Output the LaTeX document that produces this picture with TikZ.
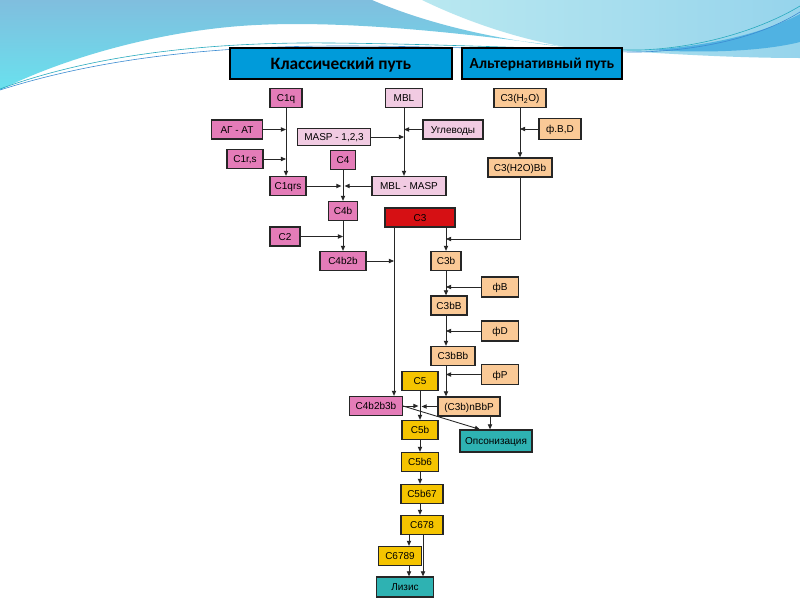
\documentclass[tikz,border=0pt]{standalone}
\usepackage{fontspec}
\setmainfont{Liberation Sans}
\newfontfamily\headfont{Carlito}
\usetikzlibrary{arrows.meta,calc}
\definecolor{pinkC}{RGB}{228,124,184}
\definecolor{lpinkC}{RGB}{241,203,226}
\definecolor{orangeC}{RGB}{250,201,150}
\definecolor{redC}{RGB}{214,16,20}
\definecolor{goldC}{RGB}{245,196,0}
\definecolor{tealC}{RGB}{46,178,178}
\definecolor{headC}{RGB}{0,155,218}
\definecolor{bgA}{RGB}{128,190,222}
\definecolor{bgB}{RGB}{105,225,238}
\definecolor{bgC}{RGB}{185,232,240}
\definecolor{bgD}{RGB}{150,212,236}
\definecolor{streakA}{RGB}{40,170,190}
\definecolor{streakB}{RGB}{60,140,210}
\definecolor{wedgeC}{RGB}{80,178,226}
\tikzset{
  box/.style={draw=black!85, line width=0.95pt, inner sep=0pt, minimum height=14.25pt, text height=5.4pt, text depth=0pt, font=\fontsize{7.5pt}{9pt}\selectfont},
  w/.style={minimum width=#1*0.75pt},
  h/.style={minimum height=#1*0.75pt},
  pk/.style={box, fill=pinkC},
  lp/.style={box, fill=lpinkC},
  og/.style={box, fill=orangeC},
  rd/.style={box, fill=redC},
  gd/.style={box, fill=goldC},
  tl/.style={box, fill=tealC},
  hd/.style={draw=black, line width=1.4pt, fill=headC, inner sep=0pt, minimum height=23.25pt, text depth=0pt},
  arr/.style={draw=black!85, line width=0.65pt, -{Triangle[length=3.8pt,width=3.2pt]}},
  streak/.style={line width=0.45pt}
}
\begin{document}
\begin{tikzpicture}[x=0.75pt,y=-0.75pt]
\useasboundingbox (0,0) rectangle (800,600);
\fill[white] (0,0) rectangle (800,600);
% background waves
\shade[top color=bgA, bottom color=bgB] (0,0) -- (372,0) .. controls (430,25) and (500,40) .. (565,47) .. controls (430,28) and (320,20) .. (240,26) .. controls (150,33) and (60,60) .. (0,90) -- cycle;
\shade[left color=bgC, right color=bgD] (422,0) -- (800,0) -- (800,58) .. controls (720,58) and (640,52) .. (565,47) .. controls (505,36) and (455,16) .. (422,0) -- cycle;
\fill[wedgeC] (650,50) .. controls (720,45) and (770,30) .. (800,14) -- (800,42) .. controls (760,52) and (700,53) .. (650,50) -- cycle;
\draw[streak, streakA] (0,89) .. controls (100,52) and (220,42) .. (330,43) .. controls (450,44) and (560,50) .. (640,50) .. controls (700,48) and (760,30) .. (800,6);
\draw[streak, streakB] (0,90) .. controls (110,55) and (230,46) .. (340,46) .. controls (460,46) and (560,52) .. (640,52) .. controls (710,50) and (765,34) .. (800,12);
% headers
\node[hd, minimum width=166.5pt, text height=8.4pt] (klass) at (341,63.5) {\headfont\bfseries\fontsize{13pt}{15pt}\selectfont Классический путь};
\node[hd, minimum width=120pt, text height=7.4pt] (alt) at (542,63.5) {\headfont\bfseries\fontsize{11.5pt}{14pt}\selectfont Альтернативный путь};
% nodes
\node[pk, w=32] (c1q) at (286,98) {C1q};
\node[lp, w=37] (mbl) at (404,98) {MBL};
\node[og, w=52] (c3h2o) at (520,98) {C3(H\textsubscript{2}O)};
\node[pk, w=51] (agat) at (237,129.5) {АГ - АТ};
\node[lp, w=73, h=17] (masp) at (334,137) {MASP - 1,2,3};
\node[lp, w=60] (ugl) at (453,129.5) {Углеводы};
\node[og, w=42, h=21] (fbd) at (560,129) {ф.B,D};
\node[pk, w=36] (c1rs) at (245,159) {C1r,s};
\node[pk, w=25] (c4) at (343,160) {C4};
\node[og, w=64] (c3h2obb) at (520,167.5) {C3(H2O)Bb};
\node[pk, w=36] (c1qrs) at (288,186) {C1qrs};
\node[lp, w=74] (mblmasp) at (409,186) {MBL - MASP};
\node[pk, w=29] (c4b) at (343,211) {C4b};
\node[rd, w=70] (c3) at (420,217.5) {C3};
\node[pk, w=30] (c2) at (285,236.5) {C2};
\node[pk, w=46] (c4b2b) at (343,261) {C4b2b};
\node[og, w=30] (c3b) at (446,261) {C3b};
\node[og, w=37, h=20] (fb) at (500,287) {фB};
\node[og, w=36] (c3bB) at (449,305.5) {C3bB};
\node[og, w=37, h=20] (fd) at (500,331) {фD};
\node[og, w=44] (c3bBb) at (453,356) {C3bBb};
\node[og, w=37, h=20] (fp) at (500,374.5) {фP};
\node[gd, w=36] (c5) at (420,381) {C5};
\node[pk, w=53] (c4b2b3b) at (376,406) {C4b2b3b};
\node[og, w=62] (c3bn) at (469,406.5) {(C3b)nBbP};
\node[gd, w=36] (c5b) at (420,430) {C5b};
\node[tl, w=72, h=22] (opson) at (496,441) {Опсонизация};
\node[gd, w=37] (c5b6) at (420,462) {C5b6};
\node[gd, w=42] (c5b67) at (422,494) {C5b67};
\node[gd, w=42] (c678) at (422,525) {C678};
\node[gd, w=43] (c6789) at (400,556) {C6789};
\node[tl, w=57, h=20] (lizis) at (405,587) {Лизис};
% helper coordinates
\coordinate (c3l) at ([xshift=-19.5pt]c3.south);
\coordinate (c3r) at ([xshift=19.5pt]c3.south);
\coordinate (jy) at (0,239);
\coordinate (ox) at (490,0);
\coordinate (xl) at (409,0);
\coordinate (xr) at (423,0);
% classical pathway
\draw[arr] (c1q) -- (c1q |- c1qrs.north);
\draw[arr] (agat.east) -- (agat -| c1q);
\draw[arr] (c1rs.east) -- (c1rs -| c1q);
\draw[arr] (mbl) -- (mbl |- mblmasp.north);
\draw[arr] (ugl.west) -- (ugl -| mbl);
\draw[arr] (masp.east) -- (masp -| mbl);
\draw[arr] (c4) -- (c4 |- c4b.north);
\draw[arr, shorten >=1.2pt] (c1qrs.east) -- (c1qrs -| c4);
\draw[arr, shorten >=1.2pt] (mblmasp.west) -- (mblmasp -| c4);
\draw[arr] (c4b) -- (c4b |- c4b2b.north);
\draw[arr] (c2.east) -- (c2 -| c4b);
\draw[arr] (c4b2b.east) -- (c4b2b -| c3l);
\draw[arr] (c3l) -- (c3l |- c4b2b3b.north);
% alternative pathway
\draw[arr] (c3h2o) -- (c3h2o |- c3h2obb.north);
\draw[arr] (fbd.west) -- (fbd -| c3h2o);
\draw[arr] (c3h2obb.south) |- (c3r |- jy);
\draw[arr] (c3r) -- (c3r |- c3b.north);
\draw[arr] (c3b) -- (c3b |- c3bB.north);
\draw[arr] (c3b |- c3bB.south) -- (c3b |- c3bBb.north);
\draw[arr] (c3b |- c3bBb.south) -- (c3b |- c3bn.north);
\draw[arr] (fb.west) -- (fb -| c3b);
\draw[arr] (fd.west) -- (fd -| c3b);
\draw[arr] (fp.west) -- (fp -| c3b);
% terminal pathway
\draw[arr] (c5) -- (c5b);
\draw[arr, shorten >=1.2pt] (c4b2b3b.east) -- (c4b2b3b -| c5);
\draw[arr, shorten >=1.2pt] (c3bn.west) -- (c3bn -| c5);
\draw[arr] (c4b2b3b.east) -- ($(opson.north west)!0.28!(opson.north east)$);
\draw[arr] (c3bn.south -| ox) -- (opson.north -| ox);
\draw[arr] (c5b) -- (c5b |- c5b6.north);
\draw[arr] (c5b6) -- (c5b6 |- c5b67.north);
\draw[arr] (c5b6 |- c5b67.south) -- (c5b6 |- c678.north);
\draw[arr] (c678.south -| xl) -- (c6789.north -| xl);
\draw[arr] (c678.south -| xr) -- (lizis.north -| xr);
\draw[arr] (c6789.south -| xl) -- (lizis.north -| xl);
\end{tikzpicture}
\end{document}
